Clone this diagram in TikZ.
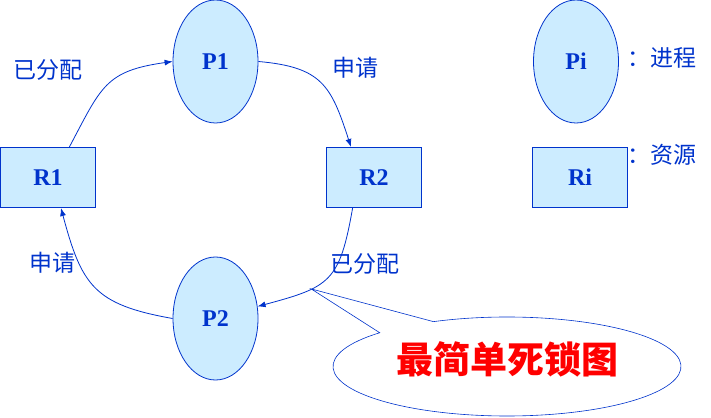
\documentclass[tikz,border=0pt]{standalone}
\usepackage{fontspec}
\setmainfont{Liberation Serif}
\newfontfamily\cjk{Noto Sans CJK SC}
\usetikzlibrary{arrows.meta}
\usetikzlibrary{shapes.geometric}
\usetikzlibrary{calc}

\definecolor{lineblue}{HTML}{0033CC}
\definecolor{fillblue}{HTML}{CCECFF}
\definecolor{notered}{HTML}{FF0000}

\begin{document}
\begin{tikzpicture}[x=1pt,y=1pt,
  proc/.style={ellipse,draw=lineblue,fill=fillblue,line width=0.8pt,
    minimum width=85pt,minimum height=123pt,inner sep=0pt,
    text=lineblue,font=\fontsize{24}{28}\selectfont\bfseries},
  res/.style={rectangle,draw=lineblue,fill=fillblue,line width=1.1pt,
    minimum width=95pt,minimum height=60pt,inner sep=0pt,
    text=lineblue,font=\fontsize{24}{28}\selectfont\bfseries},
  lbl/.style={text=lineblue,inner sep=0pt,font=\cjk\fontsize{23}{26}\selectfont},
  edge/.style={draw=lineblue,line width=0.8pt,-{Latex[length=8pt,width=6pt]}}]
  \useasboundingbox (0,0) rectangle (711,417);

  % Processes
  \node[proc] (P1) at (215.5,355.5) {P1};
  \node[proc] (P2) at (215.5,98.5) {P2};
  \node[proc] (Pi) at (576,355.5) {Pi};

  % Resources
  \node[res] (R1) at (48,239.5) {R1};
  \node[res] (R2) at (374,239.5) {R2};
  \node[res] (Ri) at (580,239.5) {Ri};

  % Legend
  \node[lbl,anchor=west] (keyP) at (627,359) {：进程};
  \node[lbl,anchor=west] (keyR) at (627,262) {：资源};

  % Edges
  \draw[edge] (R1.55) to[out=62,in=188,looseness=1.3] (P1.west);
  \draw[edge] (P1.east) to[out=-5,in=108,looseness=1.3] (R2.127);
  \draw[edge] (R2.235) to[out=-100,in=15,looseness=1.4]
    coordinate[pos=0.67] (tip) (P2.16);
  \draw[edge] (P2.west) to[out=170,in=-75,looseness=1.3] (R1.293);

  % Edge labels
  \node[lbl] (lblA) at (47.5,347) {已分配};
  \node[lbl] (lblB) at (355,349) {申请};
  \node[lbl] (lblC) at (52.5,154) {申请};
  \node[lbl] (lblD) at (365,153) {已分配};

  % Callout
  \coordinate (bubble) at (507,50.5);
  \draw[lineblue,line width=0.6pt,fill=white] (tip) -- ($(bubble)+(137:174 and 49.5)$)
    arc[start angle=137,end angle=475,x radius=174,y radius=49.5] -- cycle;
  \node[text=notered,font=\cjk\fontsize{37}{40}\selectfont\bfseries] (title) at (507,58) {最简单死锁图};
\end{tikzpicture}
\end{document}
